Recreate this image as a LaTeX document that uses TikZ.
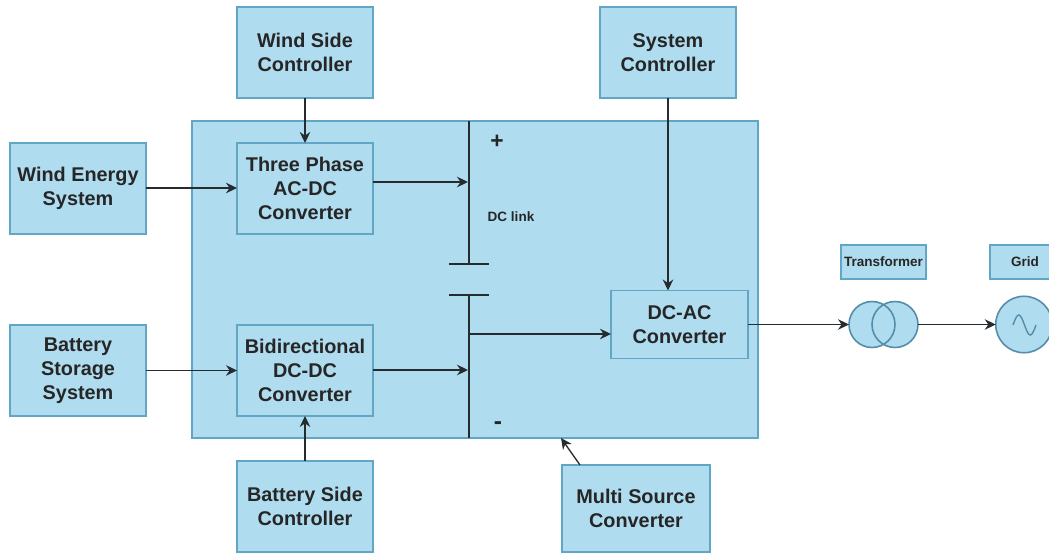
\documentclass[tikz,border=0pt]{standalone}
\usepackage{fontspec}
\setmainfont{Liberation Sans}
\usepackage{tikz}
\usetikzlibrary{positioning,arrows.meta,backgrounds}
\definecolor{cbox}{HTML}{B0DCF0}
\definecolor{cedge}{HTML}{62A6C6}
\definecolor{cline}{HTML}{262B30}

\begin{document}
\begin{tikzpicture}[
  x=0.02cm, y=-0.02cm,
  font=\fontsize{11.3}{13.6}\selectfont\bfseries,
  >={Stealth[length=2.2mm,width=2.1mm]},
  box/.style={draw=cedge, fill=cbox, line width=0.8pt, align=center, inner sep=0pt, outer sep=0pt,
              text=black!85, minimum width=2.72cm, minimum height=1.82cm},
  tag/.style={box, font=\fontsize{7.7}{9}\selectfont\bfseries, minimum height=0.68cm},
  ring/.style={circle, draw=cedge!85!black, line width=0.9pt, inner sep=0pt, outer sep=0pt},
  flow/.style={->, draw=cline, line width=0.75pt},
  bus/.style={draw=cline, line width=0.75pt},
  note/.style={inner sep=0pt, text=black!85},
]
\useasboundingbox (0,0) rectangle (1049,554);

% ---- converter blocks ----
\node[box] (threephase) at (305,188.5) {Three Phase\\AC-DC\\Converter};
\node[box, below=1.82cm of threephase] (bidir) {Bidirectional\\DC-DC\\Converter};
\node[box, above=0.9cm of threephase] (windctl) {Wind Side\\Controller};
\node[box, below=0.9cm of bidir] (batctl) {Battery Side\\Controller};
\node[box, left=1.82cm of threephase] (wind) {Wind Energy\\System};
\node[box, left=1.82cm of bidir] (battery) {Battery\\Storage\\System};
\node[box, minimum height=1.36cm, minimum width=2.74cm] (dcac) at (679.5,324.5) {DC-AC\\Converter};
\node[box] (sysctl) at (668,52.5) {System\\Controller};
\node[box, minimum width=2.96cm, minimum height=1.74cm] (multi) at (636,508.5) {Multi Source\\Converter};

% ---- outer block (background) ----
\begin{scope}[on background layer]
  \node[box, minimum width=11.32cm, minimum height=6.34cm] (main) at (475,279.5) {};
\end{scope}

% ---- transformer and grid ----
\node[tag, minimum width=1.7cm] (xftag) at (883.5,262) {Transformer};
\node[tag, minimum width=1.4cm] (gridtag) at (1025,262) {Grid};
\node[ring, minimum size=0.92cm] (xfa) at (872,324.5) {};
\node[ring, minimum size=0.92cm] (xfb) at (895,324.5) {};
\node[ring, fill=cbox, minimum size=1.13cm] (source) at (1024,324.5) {};
\begin{scope}[on background layer]
  \fill[cbox] (xfa.center) circle[radius=23];
  \fill[cbox] (xfb.center) circle[radius=23];
\end{scope}
\draw[cedge!85!black, line width=0.8pt] (1013,325) sin (1018.75,315) cos (1024.5,325) sin (1030.25,335) cos (1036,325);

% ---- DC link ----
\coordinate (bustop) at (469,121);
\coordinate (busbot) at (469,438);
\coordinate (platea) at (469,264);
\coordinate (plateb) at (469,295);
\coordinate (inwind) at (468,182);
\coordinate (inbat) at (468,370);
\coordinate (tap) at (469,334);
\coordinate (tapend) at (611,334);
\draw[bus] (bustop) -- (platea);
\draw[bus] (plateb) -- (busbot);
\draw[bus] (449,264) -- (489,264);
\draw[bus] (449,295) -- (489,295);
\node[note, font=\fontsize{13}{13}\selectfont\bfseries] (plus) at (497,142) {+};
\node[note, font=\fontsize{14}{14}\selectfont\bfseries] (minus) at (498,426) {-};
\node[note, font=\fontsize{7.7}{9}\selectfont\bfseries] (dclink) at (511,217) {DC link};

% ---- flows ----
\draw[flow] (wind.east |- 0,188) -- (threephase.west |- 0,188);
\draw[flow] (battery) -- (bidir);
\draw[flow] (windctl) -- (threephase);
\draw[flow] (batctl) -- (bidir);
\draw[flow] (threephase.east |- inwind) -- (inwind);
\draw[flow] (bidir.east |- inbat) -- (inbat);
\draw[flow] (tap) -- (tapend);
\draw[flow] (sysctl.south) -- (sysctl.south |- dcac.north);
\draw[flow] (dcac) -- (xfa);
\draw[flow] (xfb) -- (source);
\coordinate (multiend) at (561,438);
\draw[flow] (multi.north -| 580,0) -- (multiend);
\end{tikzpicture}
\end{document}
